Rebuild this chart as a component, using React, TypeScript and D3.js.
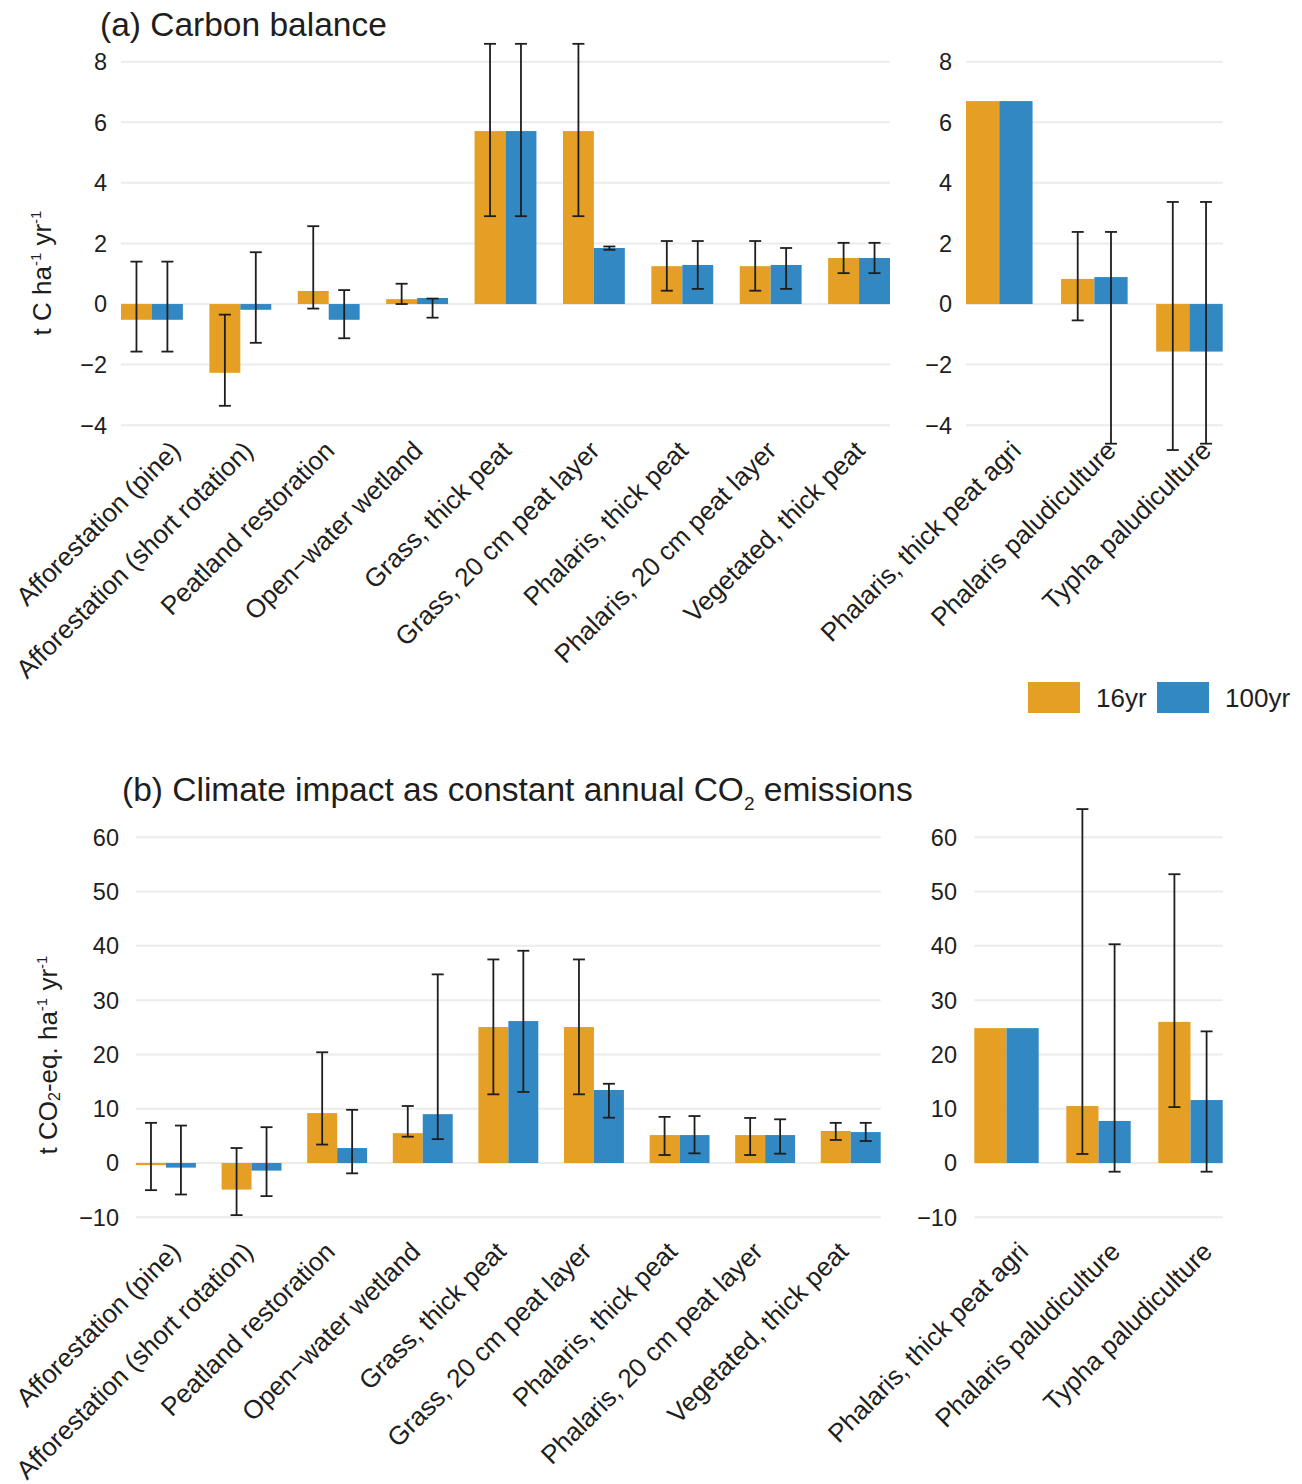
import React, { useLayoutEffect, useRef } from 'react';
import * as d3 from 'd3';

const mainSites = [
  'Afforestation (pine)',
  'Afforestation (short rotation)',
  'Peatland restoration',
  'Open\u2212water wetland',
  'Grass, thick peat',
  'Grass, 20 cm peat layer',
  'Phalaris, thick peat',
  'Phalaris, 20 cm peat layer',
  'Vegetated, thick peat',
];
const paluSites = ['Phalaris, thick peat agri', 'Phalaris paludiculture', 'Typha paludiculture'];
const horizons = ['16yr', '100yr'];

// (a) carbon balance, t C / ha / yr
const carbonMain16 = [-0.52, -2.27, 0.43, 0.16, 5.71, 5.71, 1.25, 1.25, 1.52];
const carbonMain16Lo = [-1.57, -3.36, -0.15, 0.0, 2.9, 2.9, 0.44, 0.44, 1.02];
const carbonMain16Hi = [1.4, -0.35, 2.57, 0.67, 8.59, 8.59, 2.08, 2.08, 2.02];
const carbonMain100 = [-0.52, -0.19, -0.52, 0.2, 5.71, 1.85, 1.29, 1.29, 1.52];
const carbonMain100Lo = [-1.57, -1.28, -1.13, -0.45, 2.9, 1.79, 0.5, 0.5, 1.02];
const carbonMain100Hi = [1.4, 1.71, 0.46, 0.18, 8.59, 1.9, 2.08, 1.85, 2.02];
const carbonPalu16 = [6.7, 0.83, -1.57];
const carbonPalu16Lo = [null, -0.54, -4.82];
const carbonPalu16Hi = [null, 2.38, 3.37];
const carbonPalu100 = [6.7, 0.89, -1.57];
const carbonPalu100Lo = [null, -4.61, -4.61];
const carbonPalu100Hi = [null, 2.38, 3.37];

// (b) climate impact, t CO2-eq / ha / yr
const climMain16 = [-0.4, -4.9, 9.2, 5.5, 25.05, 25.05, 5.15, 5.15, 5.9];
const climMain16Lo = [-5.0, -9.6, 3.4, 4.85, 12.65, 12.65, 1.47, 1.47, 4.25];
const climMain16Hi = [7.4, 2.76, 20.4, 10.5, 37.5, 37.5, 8.5, 8.3, 7.4];
const climMain100 = [-0.85, -1.4, 2.76, 9.0, 26.15, 13.45, 5.15, 5.15, 5.7];
const climMain100Lo = [-5.8, -6.1, -1.9, 4.4, 13.1, 8.35, 1.78, 1.72, 4.05];
const climMain100Hi = [6.9, 6.6, 9.8, 34.75, 39.1, 14.6, 8.65, 8.05, 7.4];
const climPalu16 = [24.85, 10.5, 26.0];
const climPalu16Lo = [null, 1.66, 10.3];
const climPalu16Hi = [null, 65.2, 53.2];
const climPalu100 = [24.85, 7.75, 11.6];
const climPalu100Lo = [null, -1.6, -1.6];
const climPalu100Hi = [null, 40.3, 24.25];

const carbonTicks = [-4, -2, 0, 2, 4, 6, 8];
const climTicks = [-10, 0, 10, 20, 30, 40, 50, 60];

const colors = { '16yr': '#E69F25', '100yr': '#3288C3' };
const FONT = '"Liberation Sans", Arial, Helvetica, sans-serif';
const INK = '#1e1e1e';

function rows(sites, v16, lo16, hi16, v100, lo100, hi100) {
  return sites.map((site, i) => ({
    site,
    bars: [
      { key: '16yr', value: v16[i], lo: lo16[i], hi: hi16[i] },
      { key: '100yr', value: v100[i], lo: lo100[i], hi: hi100[i] },
    ],
  }));
}

function Panel({ data, xRange, y, ticks, tickX, labelY, labelShift }) {
  const x = d3.scaleBand().domain(data.map(d => d.site)).range(xRange).paddingInner(0.3).paddingOuter(0);
  const inner = d3.scaleBand().domain(horizons).range([0, x.bandwidth()]);
  const fmt = d3.format('d');
  const cap = 6;
  return (
    <g>
      {ticks.map(t => (
        <g key={t}>
          <line x1={xRange[0]} x2={xRange[1]} y1={y(t)} y2={y(t)} stroke="#EBEBEB" strokeWidth={2} />
          <text x={tickX} y={y(t)} dy="0.36em" textAnchor="end" fontSize={23.5} fill={INK}>{fmt(t)}</text>
        </g>
      ))}
      {data.map(d => (
        <g key={d.site} transform={`translate(${x(d.site)},0)`}>
          {d.bars.map(b => (
            <rect key={b.key} x={inner(b.key)} width={inner.bandwidth()}
              y={y(Math.max(0, b.value))} height={Math.abs(y(b.value) - y(0))} fill={colors[b.key]} />
          ))}
          {d.bars.filter(b => b.lo != null).map(b => {
            const cx = inner(b.key) + inner.bandwidth() / 2;
            return (
              <g key={b.key} stroke={INK} strokeWidth={1.8}>
                <line x1={cx} x2={cx} y1={y(b.lo)} y2={y(b.hi)} />
                <line x1={cx - cap} x2={cx + cap} y1={y(b.lo)} y2={y(b.lo)} />
                <line x1={cx - cap} x2={cx + cap} y1={y(b.hi)} y2={y(b.hi)} />
              </g>
            );
          })}
        </g>
      ))}
      {data.map(d => {
        const lx = x(d.site) + x.bandwidth() / 2 + labelShift;
        return (
          <text key={d.site} className="xlab" data-x={lx} data-y={labelY}
            transform={`translate(${lx},${labelY}) rotate(-45)`}
            textAnchor="end" dy="0.72em" fontSize={26} fill={INK}>{d.site}</text>
        );
      })}
    </g>
  );
}

export default function App() {
  const svgRef = useRef(null);
  const yA = d3.scaleLinear().domain([-4, 8]).range([425.2, 61.7]);
  const yB = d3.scaleLinear().domain([-10, 60]).range([1217.3, 837.3]);

  const aMain = rows(mainSites, carbonMain16, carbonMain16Lo, carbonMain16Hi, carbonMain100, carbonMain100Lo, carbonMain100Hi);
  const aPalu = rows(paluSites, carbonPalu16, carbonPalu16Lo, carbonPalu16Hi, carbonPalu100, carbonPalu100Lo, carbonPalu100Hi);
  const bMain = rows(mainSites, climMain16, climMain16Lo, climMain16Hi, climMain100, climMain100Lo, climMain100Hi);
  const bPalu = rows(paluSites, climPalu16, climPalu16Lo, climPalu16Hi, climPalu100, climPalu100Lo, climPalu100Hi);

  // keep long rotated labels inside the left edge
  useLayoutEffect(() => {
    const svg = svgRef.current;
    if (!svg) return;
    const box = svg.getBoundingClientRect();
    d3.select(svg).selectAll('text.xlab').each(function () {
      const r = this.getBoundingClientRect();
      const left = r.left - box.left;
      if (left < 10) {
        const lx = +this.getAttribute('data-x') + (10 - left);
        this.setAttribute('transform', `translate(${lx},${this.getAttribute('data-y')}) rotate(-45)`);
      }
    });
  });

  const sup = { fontSize: 15, baselineShift: '10px' };

  return (
    <svg ref={svgRef} width={1302} height={1484} style={{ position: 'absolute', left: 0, top: 0, background: '#fff' }} fontFamily={FONT}>
      <text x={100} y={36} fontSize={33.5} fill={INK}>(a) Carbon balance</text>
      <text transform="translate(42,273) rotate(-90)" textAnchor="middle" dy="0.36em" fontSize={26} fill={INK}>
        t C ha<tspan style={sup}>-1</tspan> yr<tspan style={sup}>-1</tspan>
      </text>
      <Panel data={aMain} xRange={[121, 890]} y={yA} ticks={carbonTicks} tickX={107} labelY={439} labelShift={-6} />
      <Panel data={aPalu} xRange={[966, 1222.7]} y={yA} ticks={carbonTicks} tickX={952} labelY={439} labelShift={10} />

      {horizons.map((h, i) => (
        <g key={h} transform={`translate(${1028 + i * 129},682)`}>
          <rect width={52} height={31} fill={colors[h]} />
          <text x={68} y={15.5} dy="0.36em" fontSize={26} fill={INK}>{h}</text>
        </g>
      ))}

      <text x={122} y={801} fontSize={33.5} fill={INK}>
        (b) Climate impact as constant annual CO<tspan style={{ fontSize: 19, baselineShift: '-9px' }}>2</tspan> emissions
      </text>
      <text transform="translate(48,1055) rotate(-90)" textAnchor="middle" dy="0.36em" fontSize={26} fill={INK}>
        t CO<tspan style={{ fontSize: 16, baselineShift: '-3px' }}>2</tspan>-eq. ha<tspan style={sup}>-1</tspan> yr<tspan style={sup}>-1</tspan>
      </text>
      <Panel data={bMain} xRange={[136, 880.7]} y={yB} ticks={climTicks} tickX={119} labelY={1240} labelShift={-14} />
      <Panel data={bPalu} xRange={[974.3, 1222.7]} y={yB} ticks={climTicks} tickX={957} labelY={1240} labelShift={10} />
    </svg>
  );
}
